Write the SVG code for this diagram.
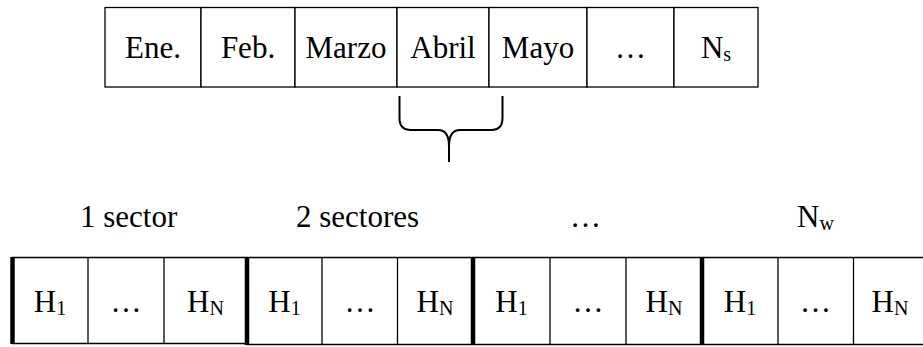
<svg xmlns="http://www.w3.org/2000/svg" width="923" height="347" viewBox="0 0 923 347">
  <style>
    .txt { font-family: "Liberation Serif", "Times New Roman", serif; font-size: 31px; fill: #000; }
    .mid { text-anchor: middle; }
    .sub { font-size: 20px; }
    .cell { fill: #fff; stroke: #000; stroke-width: 1.3; }
    .thin { stroke: #000; stroke-width: 1.3; fill: none; }
    .thick { stroke: #000; stroke-width: 4.5; fill: none; }
    .brace { stroke: #000; stroke-width: 2; fill: none; stroke-linecap: butt; }
  </style>
  <rect width="923" height="347" fill="#fff"/>

  <!-- Months row -->
  <g id="months">
    <g id="m-ene"><rect class="cell" x="105" y="7.5" width="96" height="79.5"/><text class="txt mid" x="153" y="58">Ene.</text></g>
    <g id="m-feb"><rect class="cell" x="201" y="7.5" width="94" height="79.5"/><text class="txt mid" x="248" y="58">Feb.</text></g>
    <g id="m-marzo"><rect class="cell" x="295" y="7.5" width="102" height="79.5"/><text class="txt mid" x="346" y="58">Marzo</text></g>
    <g id="m-abril"><rect class="cell" x="397" y="7.5" width="92" height="79.5"/><text class="txt mid" x="443" y="58">Abril</text></g>
    <g id="m-mayo"><rect class="cell" x="489" y="7.5" width="98" height="79.5"/><text class="txt mid" x="538" y="58">Mayo</text></g>
    <g id="m-dots"><rect class="cell" x="587" y="7.5" width="87" height="79.5"/><text class="txt mid" x="630.5" y="58">…</text></g>
    <g id="m-ns"><rect class="cell" x="674" y="7.5" width="84" height="79.5"/><text class="txt mid" x="716" y="58">N<tspan class="sub" dy="3">s</tspan></text></g>
  </g>

  <!-- Brace expanding one month -->
  <g id="connectors">
    <path class="brace" d="M399.5 96 V118 Q399.5 130 411 130 H438 Q449 130 449 146 V162 M449 146 Q449 130 460 130 H491 Q502.5 130 502.5 118 V96"/>
  </g>

  <!-- Group labels -->
  <g id="labels">
    <text class="txt" x="80" y="227">1 sector</text>
    <text class="txt" x="296" y="227">2 sectores</text>
    <text class="txt" x="570" y="227">…</text>
    <text class="txt" x="797" y="227">N<tspan class="sub" dy="3">w</tspan></text>
  </g>

  <!-- Hours row -->
  <g id="hours">
    <g id="grid">
      <line class="thin" x1="12" y1="257.5" x2="923" y2="257.5"/>
      <line class="thin" x1="12" y1="343.5" x2="247" y2="343.5"/>
      <line class="thin" x1="247" y1="344.5" x2="923" y2="344.5"/>
      <line class="thin" x1="88" y1="257.5" x2="88" y2="343.5"/>
      <line class="thin" x1="164" y1="257.5" x2="164" y2="343.5"/>
      <line class="thin" x1="322" y1="257.5" x2="322" y2="344.5"/>
      <line class="thin" x1="397.5" y1="257.5" x2="397.5" y2="344.5"/>
      <line class="thin" x1="550" y1="257.5" x2="550" y2="344.5"/>
      <line class="thin" x1="626" y1="257.5" x2="626" y2="344.5"/>
      <line class="thin" x1="778" y1="257.5" x2="778" y2="344.5"/>
      <line class="thin" x1="853.5" y1="257.5" x2="853.5" y2="344.5"/>
      <line class="thick" x1="12.5" y1="257" x2="12.5" y2="344"/>
      <line class="thick" x1="247" y1="257" x2="247" y2="345"/>
      <line class="thick" x1="473" y1="257" x2="473" y2="345"/>
      <line class="thick" x1="702" y1="257" x2="702" y2="345"/>
    </g>
    <g id="s1">
      <text class="txt mid" x="50" y="312">H<tspan class="sub" dy="3">1</tspan></text>
      <text class="txt mid" x="126" y="312">…</text>
      <text class="txt mid" x="205.5" y="312">H<tspan class="sub" dy="3">N</tspan></text>
    </g>
    <g id="s2">
      <text class="txt mid" x="284.5" y="312">H<tspan class="sub" dy="3">1</tspan></text>
      <text class="txt mid" x="360" y="312">…</text>
      <text class="txt mid" x="435" y="312">H<tspan class="sub" dy="3">N</tspan></text>
    </g>
    <g id="s3">
      <text class="txt mid" x="511.5" y="312">H<tspan class="sub" dy="3">1</tspan></text>
      <text class="txt mid" x="588" y="312">…</text>
      <text class="txt mid" x="664" y="312">H<tspan class="sub" dy="3">N</tspan></text>
    </g>
    <g id="sw">
      <text class="txt mid" x="740" y="312">H<tspan class="sub" dy="3">1</tspan></text>
      <text class="txt mid" x="815.5" y="312">…</text>
      <text class="txt mid" x="890" y="312">H<tspan class="sub" dy="3">N</tspan></text>
    </g>
  </g>
</svg>
